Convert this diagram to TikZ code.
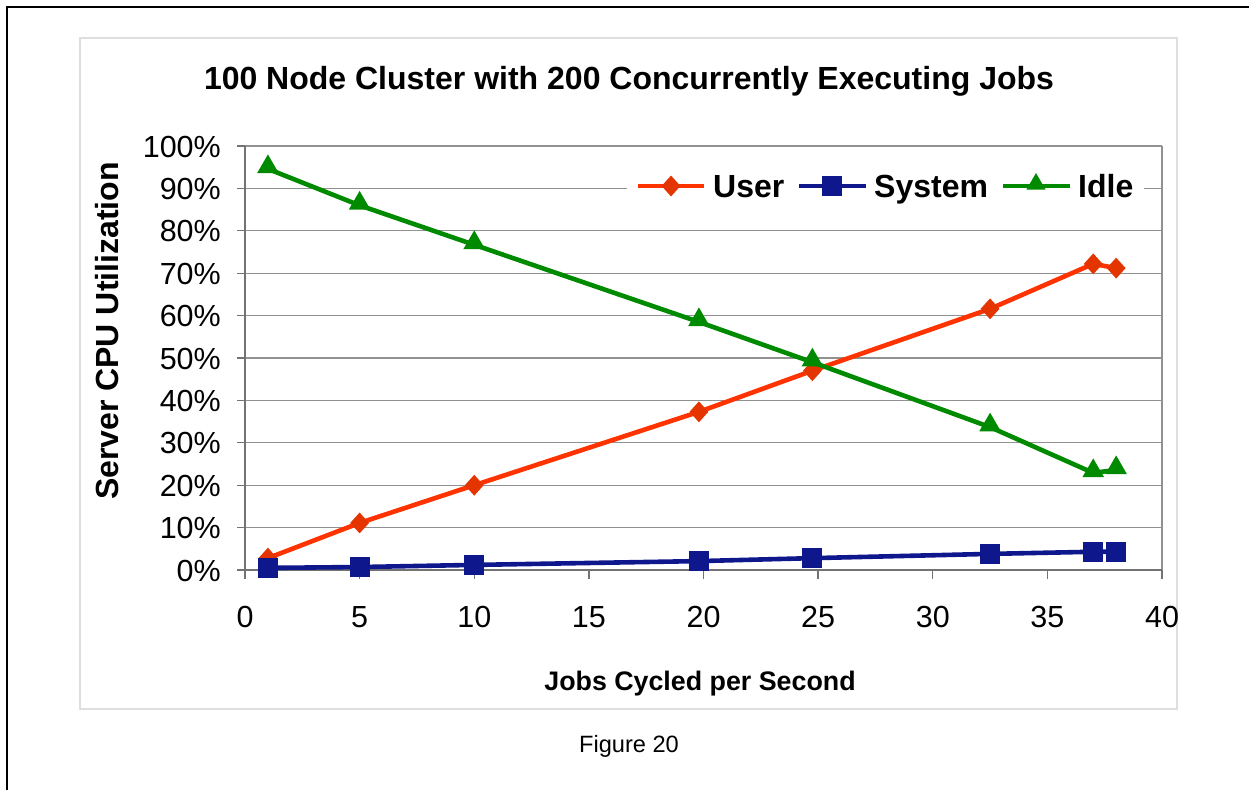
\documentclass[tikz,border=0pt]{standalone}
\usepackage{fontspec}
\setmainfont{Liberation Sans}
\usetikzlibrary{shapes.geometric}

\definecolor{userc}{RGB}{255,51,0}
\definecolor{userm}{RGB}{228,52,0}
\definecolor{sysc}{RGB}{14,24,140}
\definecolor{idlec}{RGB}{0,138,0}
\definecolor{gridc}{RGB}{145,145,145}
\definecolor{axisc}{RGB}{115,115,115}
\definecolor{areac}{RGB}{222,222,222}

\tikzset{
  ticklabel/.style={font=\fontsize{30.5}{34}\selectfont, inner sep=0pt},
  boldlabel/.style={font=\fontsize{32}{36}\selectfont\bfseries, inner sep=0pt},
  userline/.style={userc, line width=4.6pt, line join=round},
  sysline/.style={sysc, line width=4.6pt, line join=round},
  idleline/.style={idlec, line width=4.6pt, line join=round},
  umark/.style={diamond, fill=userm, inner sep=0pt, minimum width=19pt, minimum height=21pt},
  smark/.style={rectangle, fill=sysc, inner sep=0pt, minimum size=20pt},
  imark/.style={regular polygon, regular polygon sides=3, fill=idlec, inner sep=0pt, minimum size=25pt, yshift=2pt},
}

\begin{document}
\begin{tikzpicture}[x=1pt, y=-1pt]
\useasboundingbox (0,0) rectangle (1249,790);
\fill[white] (0,0) rectangle (1249,790);

% page frame
\draw[black, line width=2pt] (7,790) -- (7,7) -- (1249,7);

% chart area
\draw[areac, line width=1.3pt] (80,38) rectangle (1177,709);

% title
\node[boldlabel, anchor=base] (title) at (629,89) {100 Node Cluster with 200 Concurrently Executing Jobs};

% horizontal gridlines with tick marks and labels
\foreach \p in {10,20,...,100} {
  \draw[gridc, line width=1.3pt] (237,{570-4.24*\p}) -- (1162,{570-4.24*\p});
}
\foreach \p in {0,10,...,100} {
  \draw[axisc, line width=1.3pt] (237,{570-4.24*\p}) -- (245,{570-4.24*\p});
  \node[ticklabel, anchor=base east] (yl\p) at (221,{570-4.24*\p+11}) {\p\%};
}

% vertical axis, right border, horizontal axis and x ticks
\draw[axisc, line width=2pt] (245,146) -- (245,570);
\draw[gridc, line width=2pt] (1162,146) -- (1162,570);
\draw[axisc, line width=1.6pt] (237,570) -- (1162,570);
\foreach \v in {0,5,...,40} {
  \draw[axisc, line width=1.3pt] ({245+22.925*\v},570) -- ({245+22.925*\v},579);
  \node[ticklabel, anchor=base] (xl\v) at ({245+22.925*\v},627) {\v};
}

% axis titles
\node[boldlabel, anchor=base, rotate=90] (ytitle) at (118,331) {Server CPU Utilization};
\node[font=\fontsize{26.8}{30}\selectfont\bfseries, inner sep=0pt, anchor=base] (xtitle) at (700,690) {Jobs Cycled per Second};

% caption
\node[font=\fontsize{23.6}{27}\selectfont, inner sep=0pt, anchor=base] (caption) at (629,752) {Figure 20};

% data series
\begin{scope}[shift={(245,570)}, x=22.925pt, y=4.24pt]
  \foreach \a/\b [count=\i] in {1/2.8, 5/11.1, 10/20, 19.8/37.3, 24.75/47, 32.5/61.6, 37/72.2, 38/71.2}
    \coordinate (u\i) at (\a,\b);
  \foreach \a/\b [count=\i] in {1/0.5, 5/0.7, 10/1.2, 19.8/2.1, 24.75/2.8, 32.5/3.8, 37/4.3, 38/4.3}
    \coordinate (s\i) at (\a,\b);
  \foreach \a/\b [count=\i] in {1/94.6, 5/86, 10/76.7, 19.8/58.5, 24.75/49, 32.5/33.7, 37/22.9, 38/23.6}
    \coordinate (d\i) at (\a,\b);
\end{scope}

\draw[userline] (u1) \foreach \i in {2,...,8} { -- (u\i) };
\foreach \i in {1,...,8} \node[umark] (mu\i) at (u\i) {};

\draw[sysline] (s1) \foreach \i in {2,...,8} { -- (s\i) };
\foreach \i in {1,...,8} \node[smark] (ms\i) at (s\i) {};

\draw[idleline] (d1) \foreach \i in {2,...,8} { -- (d\i) };
\foreach \i in {1,...,8} \node[imark] (md\i) at (d\i) {};

% legend
\fill[white] (627,170) rectangle (1144,203);
\coordinate (lua) at (638,186);  \coordinate (lub) at (704,186);
\coordinate (lsa) at (799,186);  \coordinate (lsb) at (866,186);
\coordinate (lda) at (1003,186); \coordinate (ldb) at (1070,186);
\draw[userline] (lua) -- (lub);
\node[umark] (lum) at (671,186) {};
\node[boldlabel, anchor=base west] (luser) at (713,197) {User};
\draw[sysline] (lsa) -- (lsb);
\node[smark] (lsm) at (832,186) {};
\node[boldlabel, anchor=base west] (lsys) at (874,197) {System};
\draw[idleline] (lda) -- (ldb);
\node[imark, minimum size=22pt] (ldm) at (1036,186) {};
\node[boldlabel, anchor=base west] (lidle) at (1078,197) {Idle};
\end{tikzpicture}
\end{document}
